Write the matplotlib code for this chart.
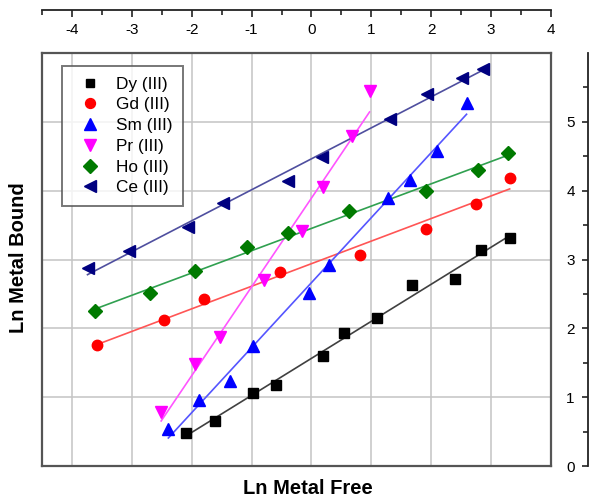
import numpy as np
import matplotlib
matplotlib.use("Agg")
import matplotlib.pyplot as plt
from matplotlib.ticker import FixedLocator

plt.rcParams['font.family'] = ['Liberation Sans', 'DejaVu Sans']
plt.rcParams['axes.unicode_minus'] = False

# Ln(free metal) vs Ln(bound metal) for each lanthanide ion
dy_x = [-2.10, -1.61, -0.97, -0.60, 0.20, 0.54, 1.09, 1.68, 2.40, 2.83, 3.31]
dy_y = [0.48, 0.65, 1.06, 1.18, 1.60, 1.93, 2.15, 2.63, 2.72, 3.14, 3.31]

gd_x = [-3.58, -2.47, -1.79, -0.53, 0.81, 1.92, 2.74, 3.31]
gd_y = [1.76, 2.12, 2.43, 2.82, 3.07, 3.45, 3.81, 4.19]

sm_x = [-2.39, -1.87, -1.36, -0.97, -0.04, 0.30, 1.27, 1.64, 2.09, 2.59]
sm_y = [0.54, 0.96, 1.24, 1.75, 2.52, 2.92, 3.89, 4.15, 4.58, 5.28]

pr_x = [-2.51, -1.95, -1.53, -0.79, -0.16, 0.20, 0.67, 0.97]
pr_y = [0.79, 1.48, 1.88, 2.70, 3.41, 4.06, 4.79, 5.45]

ho_x = [-3.61, -2.69, -1.94, -1.08, -0.40, 0.63, 1.92, 2.78, 3.29]
ho_y = [2.25, 2.52, 2.83, 3.18, 3.38, 3.70, 4.00, 4.30, 4.55]

ce_x = [-3.74, -3.05, -2.07, -1.47, -0.40, 0.18, 1.31, 1.93, 2.51, 2.87]
ce_y = [2.87, 3.12, 3.47, 3.82, 4.14, 4.49, 5.04, 5.40, 5.64, 5.77]

labels = ['Dy (III)', 'Gd (III)', 'Sm (III)', 'Pr (III)', 'Ho (III)', 'Ce (III)']
series = [(dy_x, dy_y), (gd_x, gd_y), (sm_x, sm_y),
          (pr_x, pr_y), (ho_x, ho_y), (ce_x, ce_y)]
markers = ['s', 'o', '^', 'v', 'D', '<']
msizes = [6.5, 7.5, 8.5, 8.5, 7.2, 8.5]
mcolors = ['#000000', '#ff0000', '#0000ff', '#ff00ff', '#007a00', '#000080']
lcolors = ['#404040', '#ff5555', '#5555ff', '#ff55ff', '#30a050', '#4f4f9f']

W, H = 589, 501
fig = plt.figure(figsize=(W / 100, H / 100), dpi=100)

L, R, T, B = 42, 551, 53, 466
ax = fig.add_axes([L / W, (H - B) / H, (R - L) / W, (B - T) / H])
ax.set_xlim(-4.5, 4.0)
ax.set_ylim(0, 6)
ax.set_xticks(range(-4, 5))
ax.set_yticks(range(0, 7))
ax.tick_params(which='both', length=0, labelbottom=False, labelleft=False)
ax.grid(True, color='#c4c4c4', lw=1.1)
ax.set_axisbelow(True)
for s in ax.spines.values():
    s.set_color('#555555')
    s.set_linewidth(1.6)

for (xs, ys), lab, m, ms, mc, lc in zip(series, labels, markers, msizes, mcolors, lcolors):
    xs = np.asarray(xs)
    ys = np.asarray(ys)
    k, b0 = np.polyfit(xs, ys, 1)
    xx = np.array([xs.min(), xs.max()])
    ax.plot(xx, k * xx + b0, color=lc, lw=1.2, zorder=2)
    ax.plot(xs, ys, linestyle='none', marker=m, markersize=ms,
            color=mc, markeredgecolor=mc, label=lab, zorder=3)

leg = ax.legend(loc='upper left', bbox_to_anchor=((62 - L) / (R - L), (B - 66) / (B - T)),
                borderaxespad=0, frameon=True, fancybox=False, fontsize=12.4,
                handlelength=2.0, handletextpad=0.5, labelspacing=0.33,
                borderpad=0.62, markerscale=0.95)
leg.get_frame().set_edgecolor('#555555')
leg.get_frame().set_linewidth(1.4)

# detached top axis for Ln Metal Free
ax_top = fig.add_axes([L / W, (H - 10) / H, (R - L) / W, 1e-4])
ax_top.set_xlim(-4.5, 4.0)
ax_top.set_ylim(0, 1)
for side in ['top', 'left', 'right']:
    ax_top.spines[side].set_visible(False)
ax_top.spines['bottom'].set_color('#222222')
ax_top.spines['bottom'].set_linewidth(1.3)
ax_top.xaxis.set_major_locator(FixedLocator(range(-4, 5)))
ax_top.xaxis.set_minor_locator(FixedLocator(np.arange(-4.5, 4.0, 1.0)))
ax_top.tick_params(axis='x', which='major', direction='out', length=5, width=1.2,
                   color='#222222', labelsize=11, pad=4)
ax_top.tick_params(axis='x', which='minor', direction='out', length=3.5, width=1.2,
                   color='#222222')
ax_top.set_yticks([])
ax_top.patch.set_visible(False)

# detached right axis for Ln Metal Bound
ax_r = fig.add_axes([588 / W, (H - B) / H, 1e-4, (B - T) / H])
ax_r.set_ylim(0, 6)
ax_r.set_xlim(0, 1)
for side in ['top', 'bottom', 'right']:
    ax_r.spines[side].set_visible(False)
ax_r.spines['left'].set_color('#222222')
ax_r.spines['left'].set_linewidth(1.3)
ax_r.yaxis.set_major_locator(FixedLocator(range(0, 6)))
ax_r.yaxis.set_minor_locator(FixedLocator(np.arange(0.5, 6.0, 1.0)))
ax_r.tick_params(axis='y', which='major', direction='out', length=4.5, width=1.2,
                 color='#222222', labelsize=11, pad=5)
ax_r.tick_params(axis='y', which='minor', direction='out', length=3.5, width=1.2,
                 color='#222222')
ax_r.set_xticks([])
ax_r.patch.set_visible(False)

fig.text(308 / W, 1 - 489 / H, 'Ln Metal Free', ha='center', va='center',
         fontsize=14.5, fontweight='bold')
fig.text(19 / W, 1 - 258 / H, 'Ln Metal Bound', ha='center', va='center',
         rotation=90, fontsize=14.5, fontweight='bold')

fig.savefig('out.png', dpi=100)
